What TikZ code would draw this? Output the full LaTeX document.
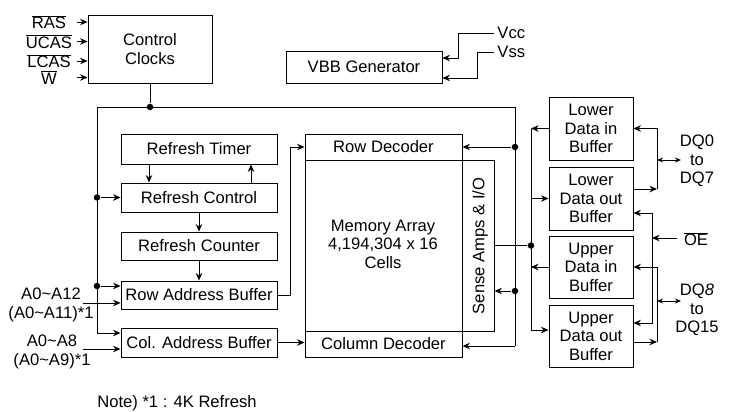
\documentclass[tikz,border=0pt]{standalone}
\usepackage{fontspec}
\setmainfont{Liberation Sans}
\usetikzlibrary{arrows.meta}
\newcommand\olbar[1]{$\overline{\mbox{#1}}$}
\begin{document}
\begin{tikzpicture}[x=1pt,y=-1pt,
  every node/.style={font=\fontsize{16.6}{18.5}\selectfont},
  box/.style={draw, line width=0.9pt, inner sep=0pt, align=center},
  arr/.style={-{Stealth[length=7.5pt,width=6.5pt]}},
  biarr/.style={{Stealth[length=6pt,width=5pt]}-{Stealth[length=6pt,width=5pt]}},
  lbl/.style={inner sep=0pt, align=center},
  dot/.style={circle, fill, inner sep=0pt, minimum size=6.5pt},
  line width=0.9pt]
\useasboundingbox (0,0) rectangle (739,412);

% boxes
\node[box, minimum width=124pt, minimum height=68pt] (cc) at (150,49) {Control\\Clocks};
\node[box, minimum width=156pt, minimum height=32pt] (vbb) at (364,67) {VBB Generator};
\node[box, minimum width=156pt, minimum height=30pt] (rt) at (199,149) {Refresh Timer};
\node[box, minimum width=156pt, minimum height=29pt] (rc) at (199,197.5) {Refresh Control};
\node[box, minimum width=156pt, minimum height=28pt] (rcnt) at (199,246) {Refresh Counter};
\node[box, minimum width=156pt, minimum height=28pt] (rab) at (199,295) {Row Address Buffer};
\node[box, minimum width=156pt, minimum height=29pt] (cab) at (199,342.5) {Col. Address Buffer};

\node[box, minimum width=189pt, minimum height=171pt] (ma) at (399.5,245.5) {};
\node[lbl] (matext) at (383,244) {Memory Array\\4,194,304 x 16\\Cells};
\node[box, minimum width=32pt, minimum height=171pt] (sa) at (478,245.5) {};
\node[lbl, rotate=90] (satext) at (480,246) {Sense Amps \& I/O};
\node[box, minimum width=157pt, minimum height=26pt] (rd) at (383.5,147) {Row Decoder};
\node[box, minimum width=157pt, minimum height=26pt] (cd) at (383.5,344) {Column Decoder};

\node[box, minimum width=84pt, minimum height=63pt] (ldi) at (591,128.5) {Lower\\Data in\\Buffer};
\node[box, minimum width=84pt, minimum height=63pt] (ldo) at (591,198.5) {Lower\\Data out\\Buffer};
\node[box, minimum width=84pt, minimum height=62pt] (udi) at (591,267) {Upper\\Data in\\Buffer};
\node[box, minimum width=84pt, minimum height=62pt] (udo) at (591,336) {Upper\\Data out\\Buffer};

% input labels
\node[lbl, minimum width=56pt] (ras) at (49,22) {\olbar{RAS}};
\node[lbl, minimum width=56pt] (ucas) at (49,41.5) {\olbar{UCAS}};
\node[lbl, minimum width=56pt] (lcas) at (49,61) {\olbar{LCAS}};
\node[lbl, minimum width=56pt] (w) at (49,77.5) {\olbar{W}};
\foreach \n in {ras,ucas,lcas,w}
  \draw[arr] (\n.east) -- (\n.east -| cc.west);

\node[lbl] (a12) at (51,305) {A0\textasciitilde A12\\(A0\textasciitilde A11)*1};
\node[lbl] (a8) at (52,352) {A0\textasciitilde A8\\(A0\textasciitilde A9)*1};
\coordinate (a12s) at (83,303);
\coordinate (a8s) at (83,349);
\draw[arr] (a12s) -- (a12s -| rab.west);
\draw[arr] (a8s) -- (a8s -| cab.west);

\node[lbl] (note) at (177,403) {Note) *1 : 4K Refresh};

% Vcc / Vss
\node[anchor=west, inner sep=3pt] (vcc) at (494,33) {Vcc};
\node[anchor=west, inner sep=3pt] (vss) at (494,52) {Vss};
\coordinate (vccA) at (458,58);
\coordinate (vssA) at (477,78);
\draw[arr] (vcc.west) -| (vccA) -- (vccA -| vbb.east);
\draw[arr] (vss.west) -| (vssA) -- (vssA -| vbb.east);

% control bus
\coordinate (tl) at (97,107);
\coordinate (tr) at (515,107);
\coordinate (bl) at (97,333);
\coordinate (br) at (515,346);
\node[dot] (dcc) at (cc.south |- tl) {};
\draw (cc.south) -- (dcc);
\draw (br) -- (tr) -- (tl) -- (bl);
\draw[arr] (bl) -- (bl -| cab.west);
\node[dot] (drc) at (rc.west -| tl) {};
\draw[arr] (drc) -- (rc.west);
\coordinate (d2) at (97,286);
\node[dot] (drab) at (d2) {};
\draw[arr] (drab) -- (d2 -| rab.west);
\node[dot] (drd) at (rd.east -| tr) {};
\draw[arr] (drd) -- (rd.east);
\coordinate (d3) at (515,291);
\node[dot] (dsa) at (d3) {};
\draw[arr] (dsa) -- (d3 -| sa.east);
\draw[arr] (br) -- (br -| cd.east);

% refresh chain
\draw[arr] ([xshift=-50pt]rt.south) -- ([xshift=-50pt]rc.north);
\draw[arr] ([xshift=52pt]rc.north) -- ([xshift=52pt]rt.south);
\draw[arr] (rc.south) -- (rcnt.north);
\draw[arr] (rcnt.south) -- (rab.north);
\draw[arr] (rab.east) -- ++(13,0) |- (rd.west);
\draw[arr] (cab.east) -- (cab.east -| cd.west);

% internal data bus
\coordinate (lbT) at (531,128.5);
\coordinate (lbB) at (531,330);
\draw (lbT) -- (lbB);
\draw[arr] (ldi.west) -- (lbT);
\draw[arr] (lbT |- ldo.west) -- (ldo.west);
\draw[arr] (udi.west) -- (udi.west -| lbT);
\draw[arr] (lbB) -- (lbB -| udo.west);
\node[dot] (dbus) at (sa.east -| lbT) {};
\draw (sa.east) -- (dbus);

% external DQ side
\coordinate (rbT) at (657,128.5);
\coordinate (rbB) at (657,189);
\draw[arr] (rbB) -- (rbT) -- (ldi.east);
\draw[arr] (rbB -| ldo.east) -- (rbB);
\coordinate (rb2T) at (657,267);
\coordinate (rb2B) at (657,342);
\draw[arr] (rb2B) -- (rb2T) -- (udi.east);
\draw[arr] (rb2B -| udo.east) -- (rb2B);

\node[lbl] (dq1) at (697,161) {DQ0\\to\\DQ7};
\node[lbl] (dq2) at (697,310) {DQ\textit{8}\\to\\DQ15};
\coordinate (dq1a) at (681,160);
\coordinate (dq2a) at (681,301);
\draw[biarr] (dq1a -| rbT) -- (dq1a);
\draw[biarr] (dq2a -| rbT) -- (dq2a);

% OE
\coordinate (oeT) at (652,213);
\coordinate (oeB) at (652,323);
\draw[arr] (oeT) -- (oeT -| ldo.east);
\draw[arr] (oeT) -- (oeB) -- (oeB -| udo.east);
\node[lbl] (oe) at (696,239) {\olbar{OE}};
\coordinate (oea) at (677,238);
\draw[arr] (oea) -- (oea -| oeT);
\end{tikzpicture}
\end{document}
